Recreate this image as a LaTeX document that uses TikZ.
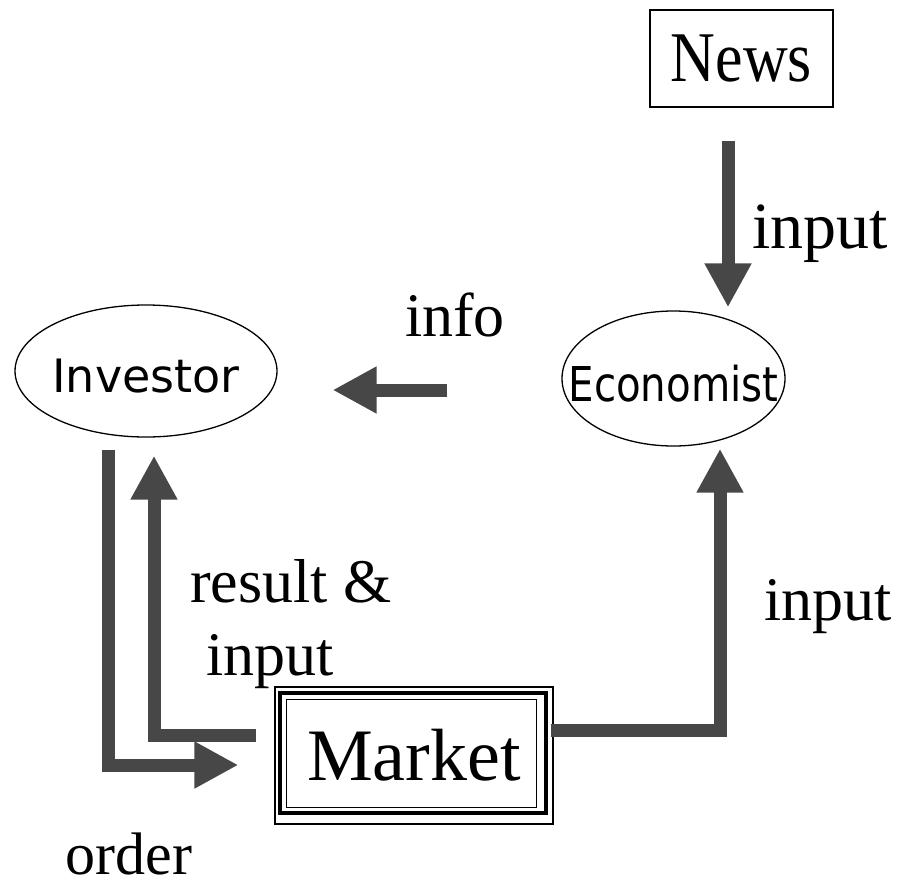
\documentclass[tikz,border=0pt]{standalone}
\usepackage{fontspec}
\setmainfont{Liberation Serif}
\newfontfamily\sansf{DejaVu Sans}
\usepackage{graphicx}
\usetikzlibrary{arrows.meta,shapes.geometric,calc}
\newcommand{\flattext}[2]{\smash{\makebox[0pt]{\raisebox{#1}{#2}}}}
\begin{document}
\begin{tikzpicture}[x=1pt,y=-1pt,
  box/.style={draw, line width=1.3pt, inner sep=0pt},
  oval/.style={draw, ellipse, line width=1.3pt, inner sep=0pt},
  flow/.style={draw=black!72, line width=13pt, line join=miter, line cap=butt,
    -{Triangle[width=44pt,length=44pt]}},
  lbl/.style={font=\fontsize{62}{70}\selectfont, inner sep=0pt, anchor=base}]
\useasboundingbox (0,0) rectangle (899,889);
% nodes
\node[box, minimum width=183pt, minimum height=97pt] (news) at (741.5,58.5)
  {\fontsize{62}{70}\selectfont\scalebox{1}[1.15]{News}};
\node[oval, minimum width=223pt, minimum height=135pt] (econ) at (673.5,378.5)
  {\flattext{-23pt}{\sansf\fontsize{48}{50}\selectfont\scalebox{0.84}[1]{Economist}}};
\node[oval, minimum width=262pt, minimum height=132pt] (inv) at (146,371)
  {\flattext{-21pt}{\sansf\fontsize{46}{50}\selectfont Investor}};
\node[box, minimum width=278pt, minimum height=137pt] (market) at (414,755.5)
  {\fontsize{74}{80}\selectfont Market};
\draw[line width=4pt] ($(market.north west)+(6,7)$) rectangle ($(market.south east)+(-8,-12)$);
\draw[line width=1.5pt] ($(market.north west)+(12,13)$) rectangle ($(market.south east)+(-17,-17)$);
% labels
\node[lbl, font=\fontsize{66}{70}\selectfont] (l1) at (820,248) {input};
\node[lbl] (l2) at (455,336) {info};
\node[lbl] (l3) at (291,602) {result \&};
\node[lbl] (l4) at (270,675) {input};
\node[lbl] (l5) at (828,620) {input};
\node[lbl, font=\fontsize{60}{66}\selectfont] (l6) at (129,874) {order};
% connectors
\draw[flow] ($(news.south)+(-13.5,33)$) -- ($(econ.north)+(54.5,-3)$);
\draw[flow] ($(econ.west)+(-114,11.5)$) -- ($(inv.east)+(55,19)$);
\draw[flow] ($(inv.south)+(-38,12)$) |- ($(market.west)+(-36,9.5)$);
\draw[flow] ($(market.west)+(-18,-20.5)$) -| ($(inv.south)+(8,18)$);
\draw[flow] ($(market.east)+(-3,-25.5)$) -| ($(econ.south)+(46.5,2)$);
\end{tikzpicture}
\end{document}
